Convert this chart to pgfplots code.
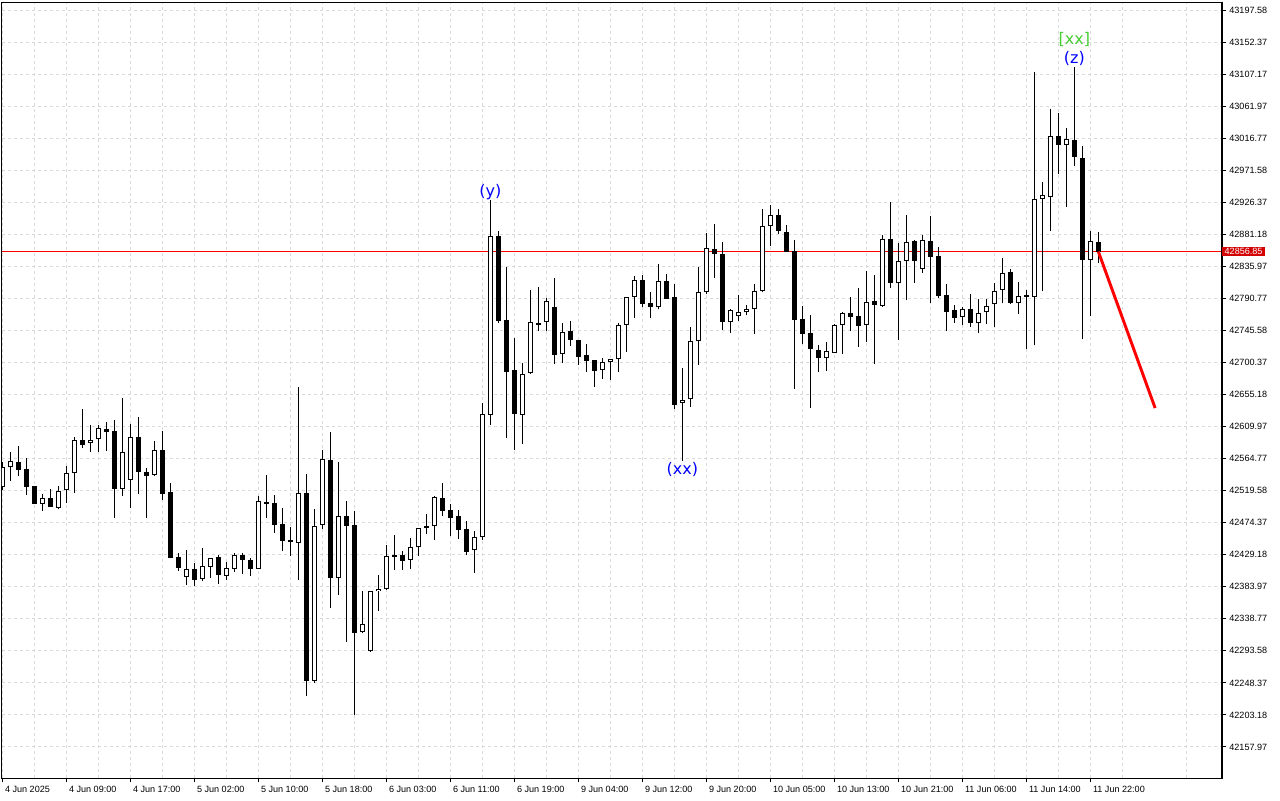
\documentclass[border=0pt]{standalone}
\usepackage{pgfplots}
\pgfplotsset{compat=1.18}
\usepackage{pgfplotstable}
\usepackage{fontspec}
\setmainfont{Liberation Sans}
\newfontfamily\annot{DejaVu Sans}
\definecolor{gridc}{RGB}{218,218,218}
\definecolor{pricered}{RGB}{210,0,0}
\definecolor{wavegreen}{RGB}{70,205,50}
\definecolor{waveblue}{RGB}{0,0,255}

\pgfplotstableread{
i o h l c
0 42525.1 42560.0 42520.4 42552.5
1 42552.5 42574.1 42533.6 42561.4
2 42560.0 42582.5 42540.2 42549.1
3 42549.6 42565.2 42513.4 42525.1
4 42525.7 42526.1 42500.7 42501.1
5 42501.1 42514.8 42491.2 42509.2
6 42509.2 42521.4 42496.9 42496.9
7 42495.5 42525.7 42493.2 42518.6
8 42520.0 42554.3 42502.5 42544.0
9 42544.0 42594.8 42515.8 42591.0
10 42591.0 42634.7 42579.7 42584.4
11 42586.3 42612.1 42574.5 42591.0
12 42592.0 42612.6 42574.1 42607.9
13 42606.5 42616.0 42575.5 42601.8
14 42604.1 42619.2 42481.4 42522.3
15 42522.3 42650.2 42512.0 42574.1
16 42535.0 42613.6 42495.5 42594.8
17 42595.2 42623.4 42515.2 42546.3
18 42545.8 42551.5 42481.4 42540.6
19 42541.6 42589.6 42540.6 42576.5
20 42576.5 42603.7 42506.8 42515.2
21 42517.6 42529.9 42424.9 42424.9
22 42425.9 42431.2 42406.6 42410.8
23 42397.3 42435.8 42386.4 42408.6
24 42409.0 42417.5 42385.4 42393.9
25 42395.3 42438.6 42392.5 42413.2
26 42412.2 42424.5 42397.0 42424.1
27 42425.6 42428.8 42387.8 42401.2
28 42399.6 42418.9 42393.5 42410.0
29 42409.4 42431.2 42404.8 42428.8
30 42428.8 42431.2 42402.0 42421.3
31 42421.3 42424.9 42399.6 42409.4
32 42409.4 42512.0 42409.4 42504.5
33 42503.5 42541.6 42481.4 42501.1
34 42501.7 42513.0 42460.2 42471.5
35 42472.1 42495.1 42434.4 42448.9
36 42449.5 42468.7 42427.3 42447.5
37 42446.1 42666.2 42393.5 42515.8
38 42515.8 42542.6 42230.5 42251.4
39 42251.7 42493.2 42248.6 42469.2
40 42470.7 42576.5 42465.9 42563.8
41 42562.3 42602.3 42354.4 42396.7
42 42395.9 42559.5 42372.7 42483.3
43 42483.3 42504.9 42306.4 42470.1
44 42470.7 42490.8 42203.5 42318.3
45 42319.7 42378.0 42318.3 42331.0
46 42292.9 42378.0 42292.6 42377.5
47 42377.5 42400.5 42350.2 42380.4
48 42380.4 42442.9 42380.1 42426.9
49 42428.3 42456.5 42408.0 42426.4
50 42428.8 42434.0 42408.0 42420.7
51 42421.7 42452.7 42409.0 42439.6
52 42439.6 42466.8 42427.8 42466.4
53 42466.4 42486.6 42458.8 42469.2
54 42469.2 42512.0 42450.3 42510.6
55 42509.2 42530.8 42484.2 42491.2
56 42492.2 42501.1 42455.6 42481.4
57 42483.8 42492.2 42451.3 42464.4
58 42465.4 42476.7 42428.8 42433.4
59 42435.4 42462.6 42403.8 42453.7
60 42453.7 42643.2 42450.3 42628.1
61 42626.7 42929.6 42612.6 42878.3
62 42878.3 42885.8 42756.5 42758.4
63 42759.8 42834.6 42594.2 42687.3
64 42689.7 42734.5 42577.3 42628.1
65 42626.7 42699.2 42585.8 42683.7
66 42685.1 42802.2 42684.8 42757.0
67 42756.0 42806.8 42744.8 42752.8
68 42757.0 42791.3 42744.8 42786.6
69 42778.6 42819.5 42698.6 42711.3
70 42711.9 42755.6 42700.0 42743.3
71 42744.8 42758.9 42724.0 42731.6
72 42732.1 42732.1 42697.2 42708.5
73 42710.9 42726.4 42687.3 42702.9
74 42703.8 42703.8 42666.2 42688.7
75 42689.3 42706.7 42677.5 42700.6
76 42700.6 42704.8 42676.1 42704.8
77 42704.8 42756.0 42687.3 42752.8
78 42753.6 42792.3 42715.6 42792.3
79 42792.3 42822.3 42763.5 42816.3
80 42816.3 42823.8 42778.2 42782.8
81 42784.3 42799.8 42763.5 42778.2
82 42778.2 42839.3 42775.4 42814.9
83 42814.9 42825.2 42790.3 42790.3
84 42792.3 42810.6 42635.1 42640.4
85 42642.8 42692.1 42561.8 42647.0
86 42648.4 42750.0 42638.0 42730.2
87 42730.2 42835.0 42696.8 42799.3
88 42799.3 42882.6 42796.5 42861.4
89 42860.0 42895.3 42819.9 42853.0
90 42853.0 42869.9 42746.6 42757.0
91 42757.0 42775.4 42741.5 42774.0
92 42765.5 42795.5 42759.3 42771.1
93 42771.1 42781.0 42766.9 42775.4
94 42775.4 42811.1 42740.1 42800.8
95 42800.8 42916.9 42799.3 42892.5
96 42892.5 42922.1 42865.1 42908.0
97 42908.0 42916.9 42882.0 42885.4
98 42884.0 42894.3 42856.6 42856.6
99 42857.2 42872.7 42663.4 42760.7
100 42761.3 42780.0 42726.8 42740.9
101 42741.5 42767.3 42636.1 42718.9
102 42717.5 42725.0 42686.9 42707.1
103 42706.2 42728.8 42688.7 42716.1
104 42714.1 42754.2 42714.1 42752.8
105 42752.8 42771.6 42711.9 42769.7
106 42769.7 42792.3 42744.8 42764.9
107 42765.5 42805.4 42722.6 42751.4
108 42752.8 42829.4 42729.7 42785.2
109 42786.6 42823.3 42698.6 42781.9
110 42780.0 42879.8 42779.0 42874.1
111 42874.1 42926.7 42805.8 42812.0
112 42812.0 42868.9 42732.5 42843.5
113 42843.9 42908.8 42788.1 42869.9
114 42871.3 42873.1 42812.9 42843.9
115 42832.6 42880.6 42827.0 42872.7
116 42871.3 42907.0 42784.7 42849.6
117 42850.1 42862.8 42791.7 42794.1
118 42795.1 42810.6 42745.2 42772.0
119 42774.0 42781.0 42756.5 42763.5
120 42764.1 42778.2 42752.8 42775.4
121 42775.4 42796.5 42750.8 42755.6
122 42755.6 42789.5 42741.5 42770.6
123 42771.1 42789.9 42754.2 42780.4
124 42782.4 42812.0 42750.8 42800.8
125 42802.2 42847.3 42783.8 42826.2
126 42827.6 42831.8 42782.4 42784.7
127 42783.8 42813.4 42769.2 42794.6
128 42795.1 42802.6 42718.9 42792.3
129 42792.3 43109.7 42724.6 42930.5
130 42930.5 42954.5 42800.8 42936.2
131 42933.4 43057.9 42886.2 43019.4
132 43019.4 43052.3 42966.7 43006.7
133 43006.7 43030.7 42920.1 43015.2
134 43013.8 43116.8 42977.1 42989.8
135 42988.4 43005.3 42733.0 42844.5
136 42844.5 42885.4 42765.5 42871.3
137 42870.3 42884.8 42841.1 42856.85
}\candles

\begin{document}
\begin{tikzpicture}
\path[use as bounding box] (0pt,0pt) rectangle (960pt,-600pt);
\begin{axis}[
  at={(1.5pt,-1.5pt)}, anchor=north west,
  width=915pt, height=582pt, scale only axis,
  xmin=-0.04, xmax=152.46, ymin=42114.17, ymax=43208.87,
  clip mode=individual,
  axis line style={black, line width=0.75pt},
  tick style={black, line width=0.75pt},
  tick align=outside, major tick length=3pt, minor tick length=0pt,
  xtick pos=left, ytick pos=right,
  xticklabel pos=left, yticklabel pos=right,
  xtick={0,8,...,136},
  xticklabels={4 Jun 2025, 4 Jun 09:00, 4 Jun 17:00, 5 Jun 02:00, 5 Jun 10:00, 5 Jun 18:00, 6 Jun 03:00, 6 Jun 11:00, 6 Jun 19:00, 9 Jun 04:00, 9 Jun 12:00, 9 Jun 20:00, 10 Jun 05:00, 10 Jun 13:00, 10 Jun 21:00, 11 Jun 06:00, 11 Jun 14:00, 11 Jun 22:00},
  minor xtick={4,12,...,152},
  ytick={43197.58,43152.37,43107.17,43061.97,43016.77,42971.58,42926.37,42881.18,42835.97,42790.77,42745.58,42700.37,42655.18,42609.97,42564.77,42519.58,42474.37,42429.18,42383.97,42338.77,42293.58,42248.37,42203.18,42157.97},
  yticklabels={43197.58,43152.37,43107.17,43061.97,43016.77,42971.58,42926.37,42881.18,42835.97,42790.77,42745.58,42700.37,42655.18,42609.97,42564.77,42519.58,42474.37,42429.18,42383.97,42338.77,42293.58,42248.37,42203.18,42157.97},
  xmajorgrids, xminorgrids, ymajorgrids,
  major grid style={gridc, line width=0.75pt, dash pattern=on 2.25pt off 2.25pt},
  minor grid style={gridc, line width=0.75pt, dash pattern=on 2.25pt off 2.25pt},
  ticklabel style={font=\fontsize{6.8}{8}\selectfont, text=black},
  xticklabel style={anchor=north west, xshift=-1.5pt, yshift=0.5pt},
  yticklabel style={anchor=west, xshift=-1pt},
]
% bid line
\addplot[red, line width=0.9pt, mark=none, forget plot] coordinates {(0,42856.85) (152.4,42856.85)};
% wicks
\addplot[black, line width=0.75pt, quiver={u=0, v=\thisrow{h}-\thisrow{l}}] table[x=i, y=l] {\candles};
% bodies
\addplot[black, line width=3.75pt, quiver={u=0, v=\thisrow{c}-\thisrow{o}}] table[x=i, y=o] {\candles};
\addplot[white, line width=2.25pt, quiver={u=0, v={max(\thisrow{c}-\thisrow{o}-2.8214,0)}}] table[x=i, y expr=\thisrow{o}+1.4107] {\candles};
% forecast line
\addplot[color=red, line width=2.2pt] coordinates {(137,42856.85) (144.1,42636.1)};
% right axis emphasis
\draw[black, line width=1.5pt] (rel axis cs:1,0) -- (rel axis cs:1,1);
% wave labels
\node[waveblue, font=\annot\fontsize{12}{14}\selectfont] at (axis cs:61,42940.2) {(y)};
\node[waveblue, font=\annot\fontsize{12}{14}\selectfont] at (axis cs:85,42549.1) {(xx)};
\node[waveblue, font=\annot\fontsize{12}{14}\selectfont] at (axis cs:134,43128.9) {(z)};
\node[wavegreen, font=\annot\fontsize{12}{14}\selectfont] at (axis cs:134,43155.7) {[xx]};
% price tag
\node[fill=pricered, text=white, anchor=west, inner xsep=1.8pt, inner ysep=1.3pt, font=\fontsize{6.8}{8}\selectfont] at (axis cs:152.46,42856.85) {42856.85};
\end{axis}
\end{tikzpicture}
\end{document}
